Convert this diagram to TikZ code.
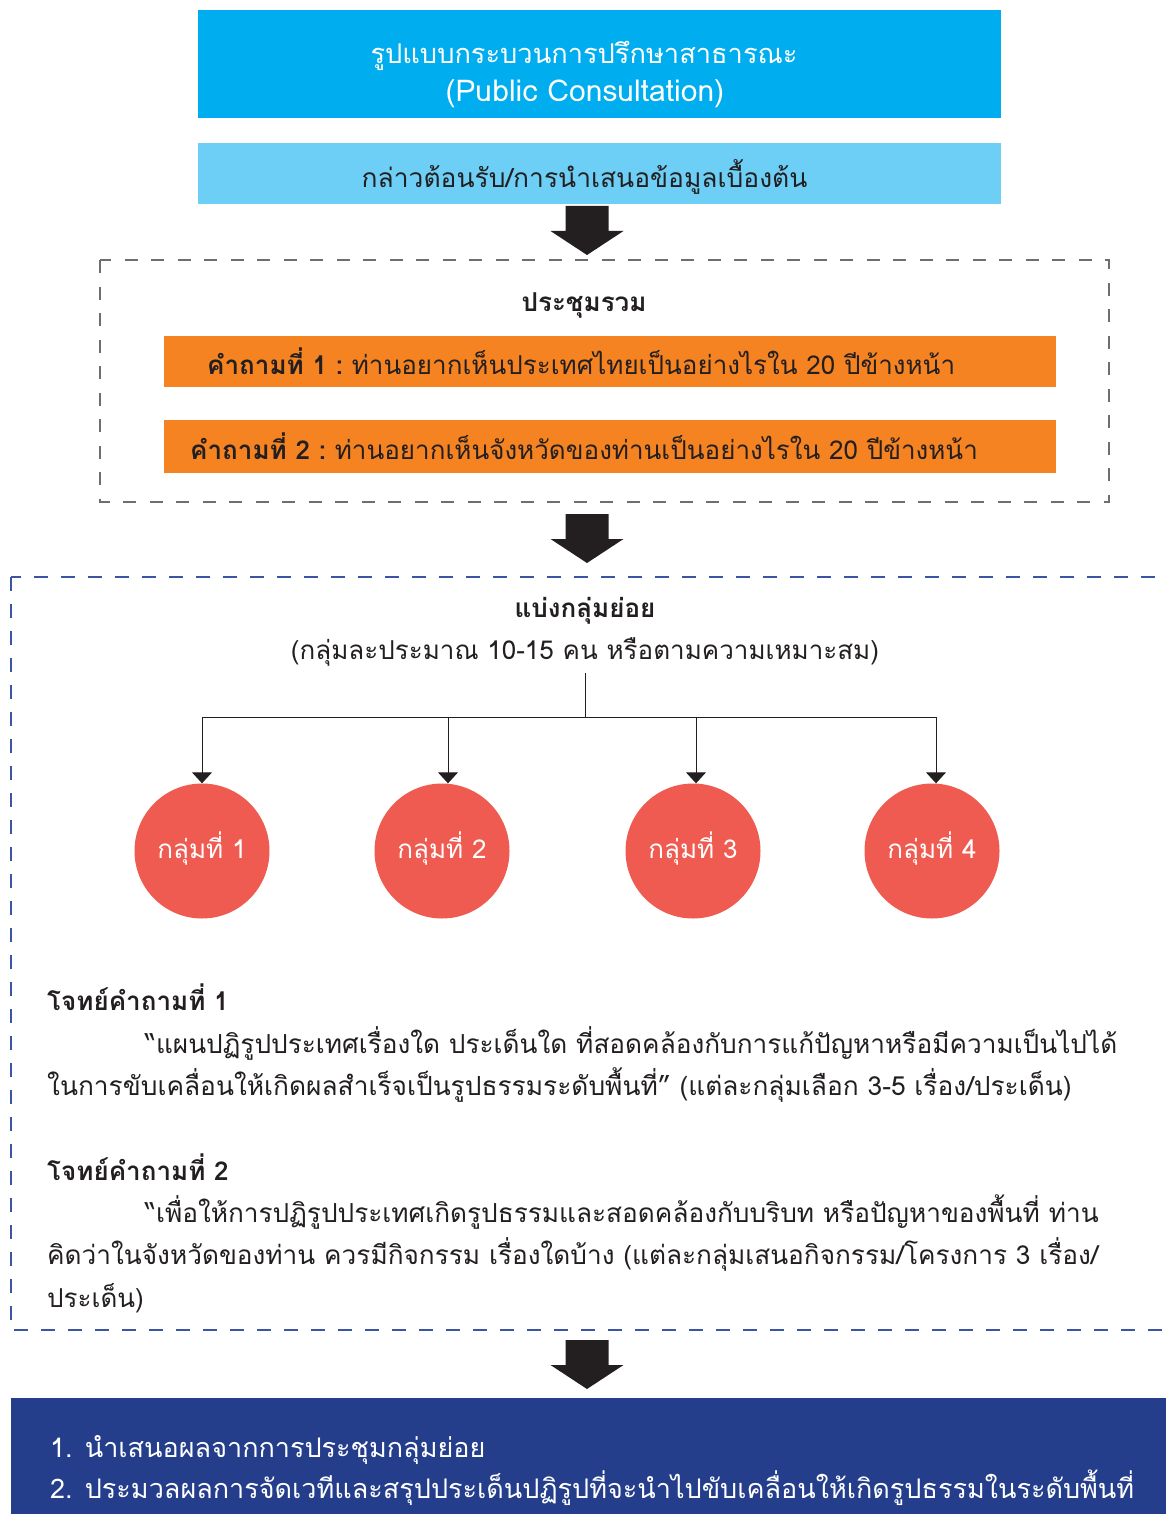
\documentclass[tikz,border=0pt]{standalone}
\usepackage{fontspec}
\setmainfont[Script=Thai]{Loma}
\usetikzlibrary{arrows.meta}
\definecolor{cyanA}{HTML}{00AEEF}
\definecolor{cyanB}{HTML}{6DCFF6}
\definecolor{orangeQ}{HTML}{F58322}
\definecolor{redC}{HTML}{EF5B50}
\definecolor{navyB}{HTML}{243E8C}
\definecolor{dashBlue}{HTML}{3A55A4}
\definecolor{dashGray}{HTML}{6D6E71}
\definecolor{ink}{HTML}{231F20}
\tikzset{
  txt/.style={font=\fontsize{26}{41}\selectfont, text=ink, inner sep=0pt, anchor=base},
  txtl/.style={txt, anchor=base west},
  res/.style={txtl, text=white, font=\fontsize{27}{41}\selectfont},
  panel/.style={anchor=north west, inner sep=0pt, outer sep=0pt},
  grp/.style={circle, fill=redC, minimum size=135pt, inner sep=0pt},
  tip/.style={-{Triangle[width=20pt,length=11pt]}, draw=ink, line width=1pt},
  bigarrow/.pic={\fill[ink] (-21.5,0) -- (21.5,0) -- (21.5,25) -- (36.5,25) -- (0,49) -- (-36.5,25) -- (-21.5,25) -- cycle;}
}
\begin{document}
\begin{tikzpicture}[x=1pt,y=-1pt]
\useasboundingbox (0,0) rectangle (1165,1514);
% top boxes
\node[panel, fill=cyanA, minimum width=803pt, minimum height=108pt] (top) at (198,10) {};
\node[txt, text=white, font=\fontsize{27.2}{41}\selectfont] (t1) at (584,64) {รูปแบบกระบวนการปรึกษาสาธารณะ};
\node[txt, text=white, font=\fontsize{30}{41}\selectfont] (t2) at (585,102) {(Public Consultation)};
\node[panel, fill=cyanB, minimum width=803pt, minimum height=61pt] (welcome) at (198,143) {};
\node[txt, font=\fontsize{26.4}{41}\selectfont] (wt) at (584.5,188) {กล่าวต้อนรับ/การนำเสนอข้อมูลเบื้องต้น};
\pic at (587,206) {bigarrow};
% plenary
\draw[dashGray, line width=1.5pt, dash pattern=on 13pt off 13.5pt] (100,260) rectangle (1109,502);
\node[txt] (plen) at (584,311) {\bfseries ประชุมรวม};
\node[panel, fill=orangeQ, minimum width=892pt, minimum height=51pt] (q1) at (164,336) {};
\node[txtl] (q1t) at (207,374) {\bfseries คำถามที่ 1 :\mdseries\ ท่านอยากเห็นประเทศไทยเป็นอย่างไรใน 20 ปีข้างหน้า};
\node[panel, fill=orangeQ, minimum width=892pt, minimum height=53pt] (q2) at (164,420) {};
\node[txtl] (q2t) at (190,459) {\bfseries คำถามที่ 2 :\mdseries\ ท่านอยากเห็นจังหวัดของท่านเป็นอย่างไรใน 20 ปีข้างหน้า};
\pic at (587,514) {bigarrow};
% small groups
\draw[dashBlue, line width=1.3pt, dash pattern=on 14pt off 13pt] (11,577) rectangle (1180,1330);
\node[txt] (sg) at (585,617) {\bfseries แบ่งกลุ่มย่อย};
\node[txt] (sgs) at (585,659) {(กลุ่มละประมาณ 10-15 คน หรือตามความเหมาะสม)};
\coordinate (stem) at (585,673);
\coordinate (split) at (585,717);
\coordinate (b1) at (202,717);
\coordinate (b2) at (448,717);
\coordinate (b3) at (696,717);
\coordinate (b4) at (936,717);
\node[grp] (g1) at (202,851) {};
\node[grp] (g2) at (442,851) {};
\node[grp] (g3) at (693,851) {};
\node[grp] (g4) at (932,851) {};
\foreach \i in {1,...,4}{\node[txt, text=white] (g\i t) at ([yshift=-7pt]g\i.center) {กลุ่มที่ \i};}
\draw[ink, line width=1pt] (stem) -- (split);
\draw[ink, line width=1pt] (b1) -- (b4);
\draw[tip] (b1) -- (b1 |- g1.north);
\draw[tip] (b2) -- (b2 |- g2.north);
\draw[tip] (b3) -- (b3 |- g3.north);
\draw[tip] (b4) -- (b4 |- g4.north);
% questions
\node[txtl] (h1) at (47,1010) {\bfseries โจทย์คำถามที่ 1};
\node[txtl, font=\fontsize{26.2}{41}\selectfont] (p1a) at (145,1053) {“แผนปฏิรูปประเทศเรื่องใด ประเด็นใด ที่สอดคล้องกับการแก้ปัญหาหรือมีความเป็นไปได้};
\node[txtl, font=\fontsize{26.3}{41}\selectfont] (p1b) at (47,1095) {ในการขับเคลื่อนให้เกิดผลสำเร็จเป็นรูปธรรมระดับพื้นที่” (แต่ละกลุ่มเลือก 3-5 เรื่อง/ประเด็น)};
\node[txtl] (h2) at (47,1180) {\bfseries โจทย์คำถามที่ 2};
\node[txtl, font=\fontsize{26.2}{41}\selectfont] (p2a) at (145,1222) {“เพื่อให้การปฏิรูปประเทศเกิดรูปธรรมและสอดคล้องกับบริบท หรือปัญหาของพื้นที่ ท่าน};
\node[txtl, font=\fontsize{26.2}{41}\selectfont] (p2b) at (47,1264) {คิดว่าในจังหวัดของท่าน ควรมีกิจกรรม เรื่องใดบ้าง (แต่ละกลุ่มเสนอกิจกรรม/โครงการ 3 เรื่อง/};
\node[txtl] (p2c) at (47,1307) {ประเด็น)};
\pic at (587,1340) {bigarrow};
% result
\node[panel, fill=navyB, minimum width=1170pt, minimum height=130pt] (resbox) at (11,1398) {};
\node[res] (r1) at (50,1457) {1. นำเสนอผลจากการประชุมกลุ่มย่อย};
\node[res] (r2) at (50,1498) {2. ประมวลผลการจัดเวทีและสรุปประเด็นปฏิรูปที่จะนำไปขับเคลื่อนให้เกิดรูปธรรมในระดับพื้นที่};
\end{tikzpicture}
\end{document}
